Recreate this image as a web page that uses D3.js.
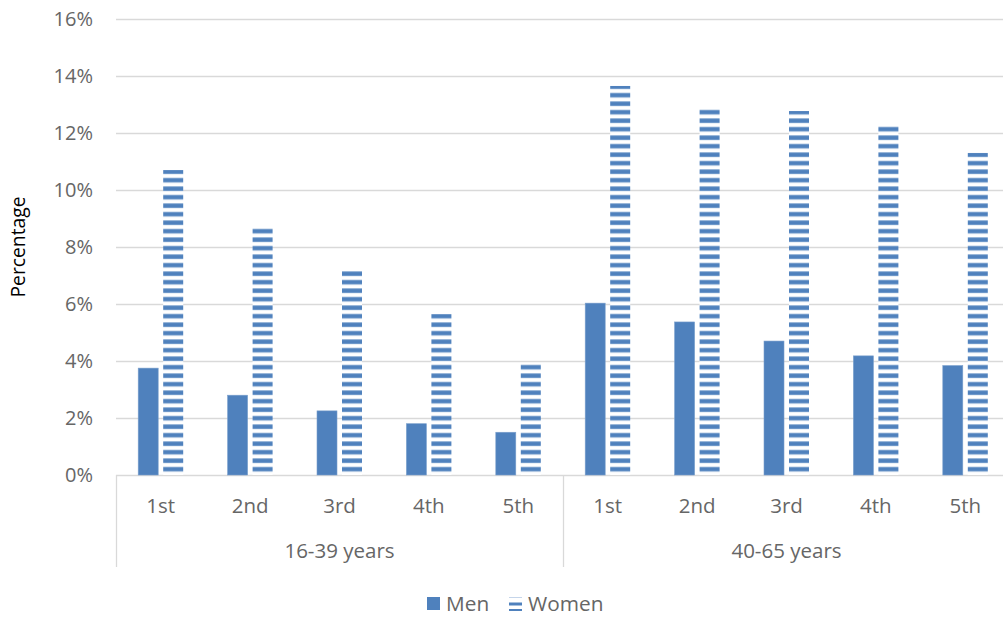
<!DOCTYPE html>
<html>
<head>
<meta charset="utf-8">
<script src="https://cdn.jsdelivr.net/npm/d3@7"></script>
<style>
  body { margin: 0; background: #fff; }
  text { font-family: "Open Sans", "Liberation Sans", sans-serif; }
</style>
</head>
<body>
<svg id="chart" width="1003" height="617"></svg>
<script>
const groups = ["16-39 years", "40-65 years"];
const categories = ["1st", "2nd", "3rd", "4th", "5th"];
const series = ["Men", "Women"];
const men = [3.75, 2.8, 2.25, 1.8, 1.5, 6.03, 5.37, 4.7, 4.18, 3.84];
const women = [10.7, 8.67, 7.16, 5.65, 3.93, 13.65, 12.84, 12.77, 12.25, 11.3];
const yTicks = [0, 2, 4, 6, 8, 10, 12, 14, 16];

const blue = "#4f81bd";
const grey = "#666666";
const svg = d3.select("#chart");
const plotL = 116, plotR = 1010, plotT = 19, plotB = 475;

const y = d3.scaleLinear().domain([0, 16]).range([plotB, plotT]);
const xGroup = d3.scaleBand().domain(groups).range([plotL, plotR]);
const xCat = d3.scaleBand().domain(categories).range([0, xGroup.bandwidth()]);
const xSeries = d3.scaleBand().domain(series).range([0, xCat.bandwidth()])
  .paddingInner(0.2).paddingOuter(0.888);

// stripe pattern for women
const defs = svg.append("defs");
const pat = defs.append("pattern").attr("id", "stripes")
  .attr("patternUnits", "userSpaceOnUse")
  .attr("width", 8).attr("height", 8.5).attr("y", 7.7);
pat.append("rect").attr("width", 8).attr("height", 8.5).attr("fill", "#fff");
pat.append("rect").attr("width", 8).attr("height", 5).attr("fill", "#b4c9e3");
pat.append("rect").attr("y", 0.5).attr("width", 8).attr("height", 4).attr("fill", blue);

// gridlines
svg.append("g").selectAll("line").data(yTicks).join("line")
  .attr("x1", plotL).attr("x2", 1003)
  .attr("y1", d => Math.round(y(d)) + 0.5).attr("y2", d => Math.round(y(d)) + 0.5)
  .attr("stroke", "#d9d9d9").attr("stroke-width", 1.3);

// y tick labels
svg.append("g").selectAll("text").data(yTicks).join("text")
  .attr("x", 93).attr("y", d => y(d) + 7)
  .attr("text-anchor", "end").attr("font-size", 20).attr("fill", grey)
  .text(d => d + "%");

// y axis title
svg.append("text")
  .attr("transform", `translate(25,${(plotT + plotB) / 2}) rotate(-90)`)
  .attr("text-anchor", "middle").attr("font-size", 19.3).attr("fill", "#000")
  .text("Percentage");

// bars
const rows = [];
groups.forEach((g, gi) => categories.forEach((c, ci) => {
  const i = gi * categories.length + ci;
  rows.push({ g, c, s: "Men", v: men[i] });
  rows.push({ g, c, s: "Women", v: women[i] });
}));
const bx = d => xGroup(d.g) + xCat(d.c) + xSeries(d.s);
svg.append("g").selectAll("rect").data(rows).join("rect")
  .attr("x", bx).attr("width", xSeries.bandwidth())
  .attr("y", d => y(d.v)).attr("height", d => plotB - y(d.v))
  .attr("fill", d => d.s === "Men" ? blue : "url(#stripes)")
  .attr("stroke", d => d.s === "Men" ? "#7a9fcc" : "none").attr("stroke-width", 0.6);

// multi-level category axis
const axisY2 = 567;
svg.append("g").selectAll("line").data(groups.map(g => xGroup(g)))
  .join("line")
  .attr("x1", d => Math.round(d) + 0.5).attr("x2", d => Math.round(d) + 0.5)
  .attr("y1", plotB).attr("y2", axisY2)
  .attr("stroke", "#d9d9d9").attr("stroke-width", 1.3);

svg.append("g").selectAll("text").data(groups.flatMap(g => categories.map(c => ({ g, c }))))
  .join("text")
  .attr("x", d => xGroup(d.g) + xCat(d.c) + xCat.bandwidth() / 2)
  .attr("y", 513).attr("text-anchor", "middle")
  .attr("font-size", 20.5).attr("fill", grey)
  .text(d => d.c);

svg.append("g").selectAll("text").data(groups).join("text")
  .attr("x", d => xGroup(d) + xGroup.bandwidth() / 2)
  .attr("y", 558).attr("text-anchor", "middle")
  .attr("font-size", 20.5).attr("fill", grey)
  .text(d => d);

// legend
const lg = svg.append("g");
lg.append("rect").attr("x", 427).attr("y", 597).attr("width", 13).attr("height", 13).attr("fill", blue);
lg.append("text").attr("x", 446).attr("y", 611).attr("font-size", 20.8).attr("fill", grey).text(series[0]);
lg.append("rect").attr("x", 509).attr("y", 597).attr("width", 13).attr("height", 1).attr("fill", "#c5d5ea");
lg.append("rect").attr("x", 509).attr("y", 602.5).attr("width", 13).attr("height", 3).attr("fill", blue);
lg.append("rect").attr("x", 509).attr("y", 609).attr("width", 13).attr("height", 2).attr("fill", blue);
lg.append("text").attr("x", 528).attr("y", 611).attr("font-size", 20.8).attr("fill", grey).text(series[1]);
</script>
</body>
</html>
